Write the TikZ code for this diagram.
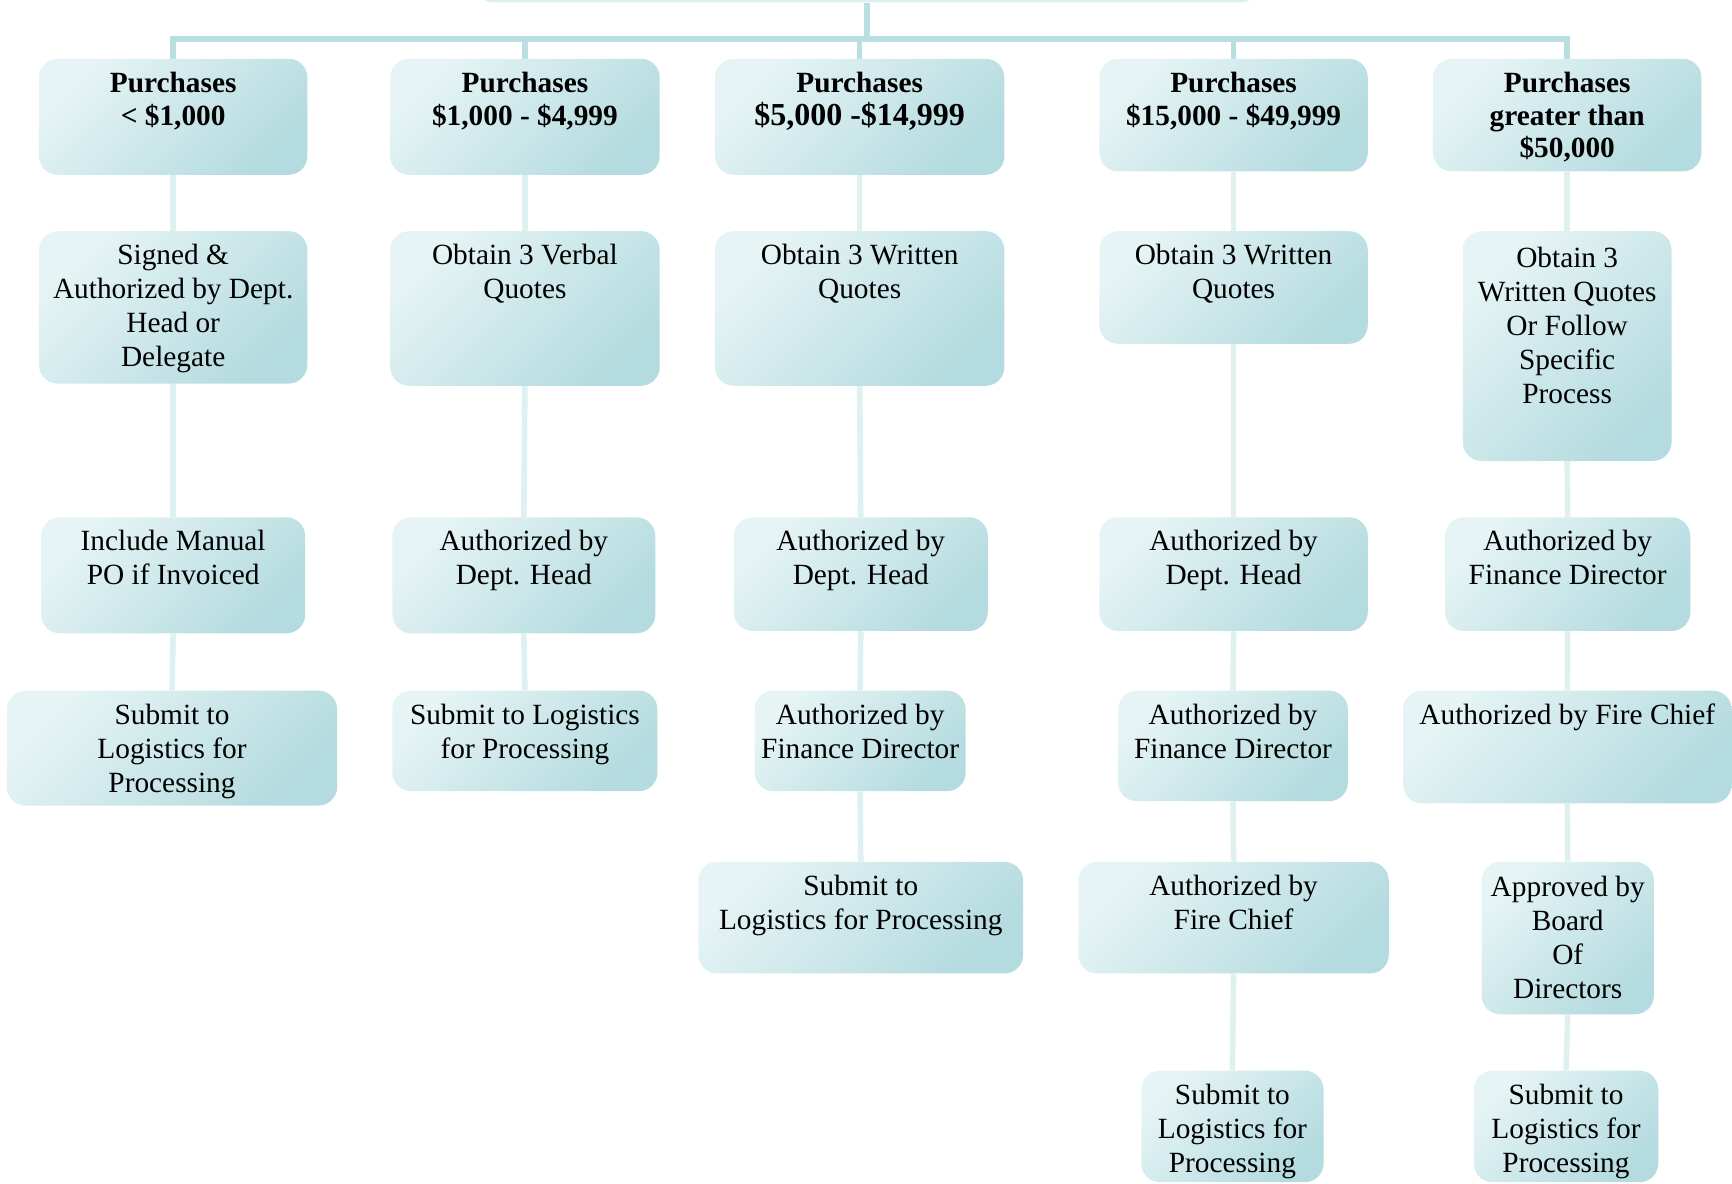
\documentclass[tikz,border=0pt]{standalone}
\usepackage{fontspec}
\setmainfont{Liberation Serif}
\newdimen\pxu \pxu=0.75pt
\definecolor{boxlight}{HTML}{E6F4F5}
\definecolor{boxdark}{HTML}{B4DBDF}
\definecolor{busc}{HTML}{B9DFE2}
\definecolor{linkc}{HTML}{DFF0F1}
\newcommand\boxfont{\fontsize{22}{25.5}\selectfont}
\newcommand\headfont{\bfseries\fontsize{22}{24.5}\selectfont}
\newcommand\bt[3]{\parbox[t][#2\pxu][t]{#1\pxu}{\centering\vspace*{10pt}#3\par}}
\pgfdeclarelayer{background}
\pgfsetlayers{background,main}
\tikzset{
  box/.style={rounded corners=14pt, inner sep=0pt, top color=boxlight, bottom color=boxdark,
    shading angle=45, font=\boxfont, anchor=north west},
  head/.style={box, font=\headfont},
  busline/.style={draw=busc, line width=4.2pt},
  link/.style={draw=linkc, line width=4.2pt},
}
\begin{document}
\begin{tikzpicture}[x=0.75pt, y=-0.75pt]
\useasboundingbox (0,0) rectangle (1732,1183);
% partial top box
\node[box, minimum width=784\pxu, minimum height=102.2\pxu, top color=boxlight, bottom color=boxlight!80!boxdark] (top) at (475,-100) {};
% headers
\node[head] (H1) at (38.7,58.5) {\bt{268.4}{116}{Purchases\\< \$1,000}};
\node[head] (H2) at (389.9,58.5) {\bt{269.5}{116}{Purchases\\\$1,000 - \$4,999}};
\node[head] (H3) at (714.7,58.5) {\bt{289.4}{116}{Purchases\\{\fontsize{24}{27}\selectfont \$5,000 -\$14,999}}};
\node[head] (H4) at (1099.1,58.5) {\bt{268.4}{112.7}{Purchases\\\$15,000 - \$49,999}};
\node[head] (H5) at (1432.7,58.5) {\bt{268.4}{112.7}{Purchases\\greater than\\\$50,000}};
% row 2
\node[box] (N1a) at (38.7,230.9) {\bt{268.4}{152.4}{Signed \&\\Authorized by Dept.\\Head or\\Delegate}};
\node[box] (N2a) at (389.9,230.9) {\bt{269.5}{154.6}{Obtain 3 Verbal\\Quotes}};
\node[box] (N3a) at (714.7,230.9) {\bt{289.4}{154.6}{Obtain 3 Written\\Quotes}};
\node[box] (N4a) at (1099.1,230.9) {\bt{268.4}{112.6}{Obtain 3 Written\\Quotes}};
\node[box] (N5a) at (1462.5,230.9) {\bt{208.8}{229.7}{\vspace*{2pt}Obtain 3\\Written Quotes\\Or Follow\\Specific\\Process}};
% row 3
\node[box] (N1b) at (40.9,517) {\bt{264}{116}{Include Manual\\PO if Invoiced}};
\node[box] (N2b) at (392.1,517) {\bt{262.9}{116}{Authorized by\\Dept. Head}};
\node[box] (N3b) at (733.5,517) {\bt{254}{113.7}{Authorized by\\Dept. Head}};
\node[box] (N4b) at (1099.1,517) {\bt{268.4}{113.7}{Authorized by\\Dept. Head}};
\node[box] (N5b) at (1444.8,517) {\bt{245.2}{113.7}{Authorized by\\Finance Director}};
% row 4
\node[box] (N1c) at (6.6,690.4) {\bt{330.3}{114.9}{Submit to\\Logistics for\\Processing}};
\node[box] (N2c) at (392.1,690.4) {\bt{265.1}{100.5}{Submit to Logistics\\for Processing}};
\node[box] (N3c) at (754.4,690.4) {\bt{211}{100.5}{Authorized by\\Finance Director}};
\node[box] (N4c) at (1117.9,690.4) {\bt{229.7}{110.5}{Authorized by\\Finance Director}};
\node[box] (N5c) at (1402.8,690.4) {\bt{328.5}{112.7}{Authorized by Fire Chief}};
% row 5
\node[box] (N3d) at (698.1,861.6) {\bt{324.8}{111.6}{Submit to\\Logistics for Processing}};
\node[box] (N4d) at (1078.1,861.6) {\bt{310.4}{111.6}{Authorized by\\Fire Chief}};
\node[box] (N5d) at (1481.3,861.6) {\bt{172.3}{152.4}{\vspace*{1pt}Approved by\\Board\\Of\\Directors}};
% row 6
\node[box] (N4e) at (1141,1070.4) {\bt{182.3}{111.5}{Submit to\\Logistics for\\Processing}};
\node[box] (N5e) at (1473.5,1070.4) {\bt{184.5}{111.5}{Submit to\\Logistics for\\Processing}};
\coordinate (busy) at (0,38.7);
\begin{pgfonlayer}{background}
  \path[busline] (top.south) -- (top.south |- busy);
  \path[busline] (H1.north) -- (H1.north |- busy) -- (H5.north |- busy) -- (H5.north);
  \path[busline] (H2.north) -- (H2.north |- busy);
  \path[busline] (H3.north) -- (H3.north |- busy);
  \path[busline] (H4.north) -- (H4.north |- busy);
  \path[link] (H1.south) -- (N1a.north);
  \path[link] (N1a.south) -- (N1b.north);
  \path[link] (N1b.south) -- (N1c.north);
  \path[link] (H2.south) -- (N2a.north);
  \path[link] (N2a.south) -- (N2b.north);
  \path[link] (N2b.south) -- (N2c.north);
  \path[link] (H3.south) -- (N3a.north);
  \path[link] (N3a.south) -- (N3b.north);
  \path[link] (N3b.south) -- (N3c.north);
  \path[link] (N3c.south) -- (N3d.north);
  \path[link] (H4.south) -- (N4a.north);
  \path[link] (N4a.south) -- (N4b.north);
  \path[link] (N4b.south) -- (N4c.north);
  \path[link] (N4c.south) -- (N4d.north);
  \path[link] (N4d.south) -- (N4e.north);
  \path[link] (H5.south) -- (N5a.north);
  \path[link] (N5a.south) -- (N5b.north);
  \path[link] (N5b.south) -- (N5c.north);
  \path[link] (N5c.south) -- (N5d.north);
  \path[link] (N5d.south) -- (N5e.north);
\end{pgfonlayer}
\end{tikzpicture}
\end{document}
